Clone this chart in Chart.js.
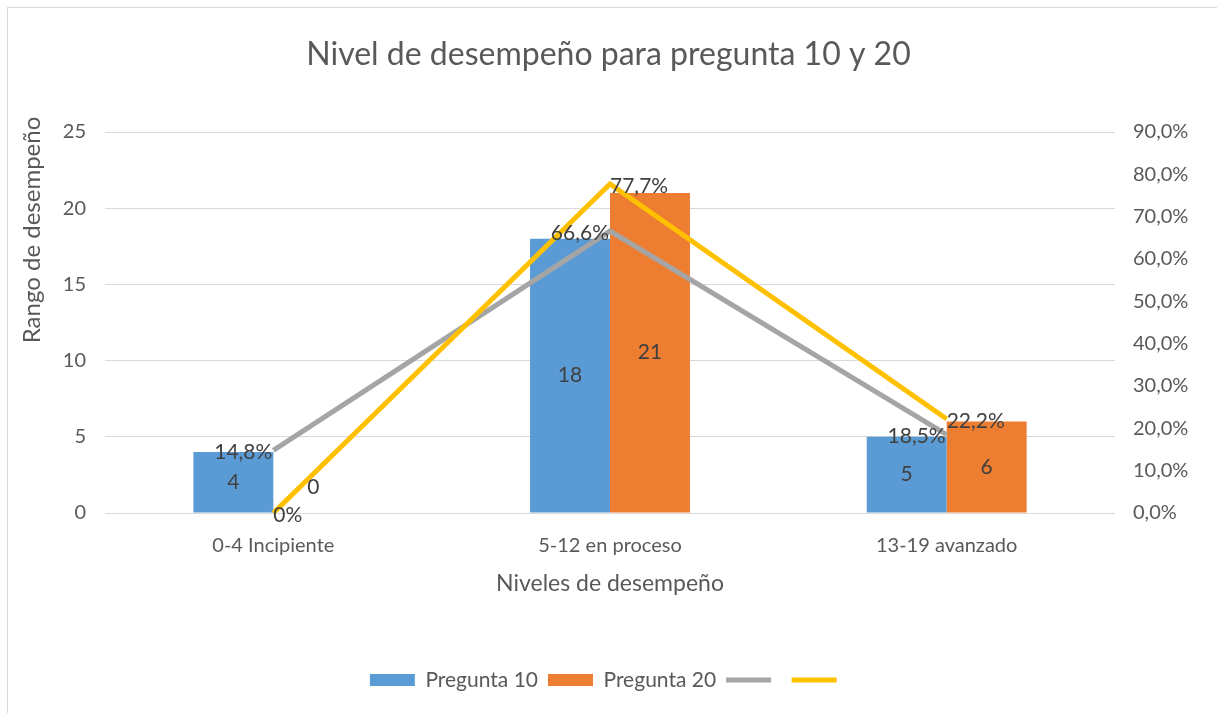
<!DOCTYPE html>
<html>
<head>
<meta charset="utf-8">
<script src="https://cdn.jsdelivr.net/npm/chart.js@4"></script>
<style>
  body { margin: 0; background: #fff; }
  #frame { position: absolute; left: 7px; top: 7px; width: 1212px; height: 708px; border: 1px solid #d9d9d9; }
  #chart { position: absolute; left: 0; top: 0; }
</style>
</head>
<body>
<div id="frame"></div>
<canvas id="chart" width="1217" height="713"></canvas>
<script>
var categories = ["0-4 Incipiente", "5-12 en proceso", "13-19 avanzado"];
var pregunta10 = [4, 18, 5];
var pregunta20 = [0, 21, 6];
// porcentaje de cada nivel (eje derecho)
var porcentaje10 = [14.8, 66.6, 18.5];
var porcentaje20 = [0, 77.7, 22.2];
var leftTicks = [0, 5, 10, 15, 20, 25];
var rightTicks = [0, 10, 20, 30, 40, 50, 60, 70, 80, 90];

var FONT = "Lato";
var GREY_TEXT = "#595959";
var LABEL_TEXT = "#404040";

var fmtPct = function (v) {
  return v === 0 ? "0%" : v.toFixed(1).replace(".", ",") + "%";
};

var valueLabels = {
  id: "valueLabels",
  afterDatasetsDraw: function (chart) {
    var ctx = chart.ctx;
    ctx.save();
    ctx.font = "21px " + FONT;
    ctx.fillStyle = LABEL_TEXT;
    ctx.textBaseline = "middle";
    chart.data.datasets.forEach(function (ds, i) {
      var meta = chart.getDatasetMeta(i);
      meta.data.forEach(function (el, j) {
        var v = ds.data[j];
        if (ds.type === "bar") {
          ctx.textAlign = "center";
          var y = v === 0 ? el.base - 26 : (el.y + el.base) / 2;
          ctx.fillText(String(v), el.x, y);
        } else {
          var left = ds.labelSide === "left";
          ctx.textAlign = left ? "right" : "left";
          ctx.fillText(fmtPct(v), el.x + (left ? -1 : 0), el.y + 2);
        }
      });
    });
    ctx.restore();
  },
  afterDraw: function (chart) {
    // título del eje vertical
    var ctx = chart.ctx;
    ctx.save();
    ctx.font = "24px " + FONT;
    ctx.fillStyle = GREY_TEXT;
    ctx.textAlign = "center";
    ctx.textBaseline = "middle";
    ctx.translate(32, 230);
    ctx.rotate(-Math.PI / 2);
    ctx.fillText("Rango de desempeño", 0, 0);
    ctx.restore();
  }
};

var ctx = document.getElementById("chart");
var chart = new Chart(ctx, {
  type: "bar",
  data: {
    labels: categories,
    datasets: [
      { type: "bar", label: "Pregunta 10", data: pregunta10, backgroundColor: "#5B9BD5", borderColor: "#5B9BD5", yAxisID: "y", order: 2 },
      { type: "bar", label: "Pregunta 20", data: pregunta20, backgroundColor: "#ED7D31", borderColor: "#ED7D31", yAxisID: "y", order: 2 },
      { type: "line", label: "", data: porcentaje10, borderColor: "#A5A5A5", backgroundColor: "#A5A5A5", borderWidth: 5, pointRadius: 0, tension: 0, yAxisID: "y1", order: 1, labelSide: "left" },
      { type: "line", label: "", data: porcentaje20, borderColor: "#FFC000", backgroundColor: "#FFC000", borderWidth: 5, pointRadius: 0, tension: 0, yAxisID: "y1", order: 0, labelSide: "right" }
    ]
  },
  options: {
    responsive: false,
    animation: false,
    devicePixelRatio: 1,
    categoryPercentage: 0.475,
    barPercentage: 1,
    layout: { padding: { left: 0, right: 0, top: 0, bottom: 12.5 } },
    plugins: {
      title: {
        display: true,
        text: "Nivel de desempeño para pregunta 10 y 20",
        color: GREY_TEXT,
        font: { family: FONT, size: 32, weight: "normal" },
        padding: { top: 35.8, bottom: 57.8 }
      },
      legend: {
        position: "bottom",
        labels: {
          usePointStyle: true,
          pointStyleWidth: 45,
          boxHeight: 12,
          padding: 10,
          color: GREY_TEXT,
          font: { family: FONT, size: 21 },
          generateLabels: function (chart) {
            return chart.data.datasets.map(function (ds, i) {
              var isLine = ds.type === "line";
              return {
                text: ds.label,
                fillStyle: ds.backgroundColor,
                strokeStyle: ds.borderColor,
                lineWidth: isLine ? 5 : 0,
                pointStyle: isLine ? "line" : "rect",
                fontColor: GREY_TEXT,
                hidden: false,
                datasetIndex: i
              };
            });
          }
        }
      },
      tooltip: { enabled: false }
    },
    scales: {
      x: {
        grid: { display: false, drawTicks: false },
        border: { display: false },
        ticks: { color: GREY_TEXT, font: { family: FONT, size: 20 }, padding: 21 },
        title: {
          display: true,
          text: "Niveles de desempeño",
          color: GREY_TEXT,
          font: { family: FONT, size: 23 },
          padding: { top: 0, bottom: 61.7 }
        },
        afterFit: function (scale) { scale.height = 146.5; }
      },
      y: {
        position: "left",
        min: 0,
        max: 25,
        afterBuildTicks: function (scale) {
          scale.ticks = leftTicks.map(function (v) { return { value: v }; });
        },
        grid: { color: "#d9d9d9", lineWidth: 1, drawTicks: false },
        border: { display: false },
        ticks: { color: GREY_TEXT, font: { family: FONT, size: 20 }, padding: 19 },
        afterFit: function (scale) { scale.width = 105; }
      },
      y1: {
        position: "right",
        min: 0,
        max: 90,
        afterBuildTicks: function (scale) {
          scale.ticks = rightTicks.map(function (v) { return { value: v }; });
        },
        grid: { display: false, drawTicks: false },
        border: { display: false },
        ticks: {
          color: GREY_TEXT,
          font: { family: FONT, size: 20 },
          padding: 18,
          callback: function (v) { return v.toFixed(1).replace(".", ",") + "%"; }
        },
        afterFit: function (scale) { scale.width = 102; }
      }
    }
  },
  plugins: [valueLabels]
});
</script>
</body>
</html>
